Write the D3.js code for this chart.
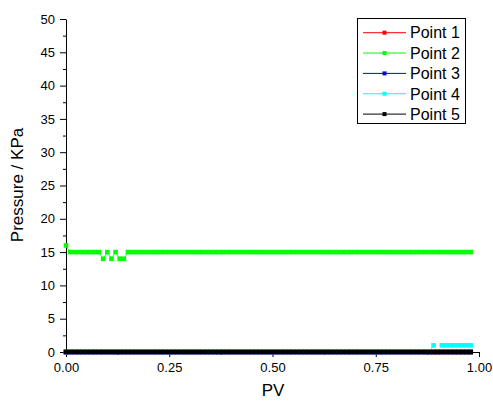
<!DOCTYPE html>
<html>
<head>
<meta charset="utf-8">
<script src="https://cdn.jsdelivr.net/npm/d3@7"></script>
<style>
  body { margin: 0; background: #fff; }
  svg { display: block; font-family: "Liberation Sans", Arial, sans-serif; }
</style>
</head>
<body>
<svg width="493" height="401"></svg>
<script>
// x values shared by every series
const pv = [
  0.00,0.01,0.02,0.03,0.04,0.05,0.06,0.07,0.08,0.09,
  0.10,0.11,0.12,0.13,0.14,0.15,0.16,0.17,0.18,0.19,
  0.20,0.21,0.22,0.23,0.24,0.25,0.26,0.27,0.28,0.29,
  0.30,0.31,0.32,0.33,0.34,0.35,0.36,0.37,0.38,0.39,
  0.40,0.41,0.42,0.43,0.44,0.45,0.46,0.47,0.48,0.49,
  0.50,0.51,0.52,0.53,0.54,0.55,0.56,0.57,0.58,0.59,
  0.60,0.61,0.62,0.63,0.64,0.65,0.66,0.67,0.68,0.69,
  0.70,0.71,0.72,0.73,0.74,0.75,0.76,0.77,0.78,0.79,
  0.80,0.81,0.82,0.83,0.84,0.85,0.86,0.87,0.88,0.89,
  0.90,0.91,0.92,0.93,0.94,0.95,0.96,0.97,0.98
];

const point1 = [
  0,0,0,0,0,0,0,0,0,0, 0,0,0,0,0,0,0,0,0,0,
  0,0,0,0,0,0,0,0,0,0, 0,0,0,0,0,0,0,0,0,0,
  0,0,0,0,0,0,0,0,0,0, 0,0,0,0,0,0,0,0,0,0,
  0,0,0,0,0,0,0,0,0,0, 0,0,0,0,0,0,0,0,0,0,
  0,0,0,0,0,0,0,0,0,0, 0,0,0,0,0,0,0,0,0
];

const point2 = [
  16,15,15,15,15,15,15,15,15,14, 15,14,15,14,14,15,15,15,15,15,
  15,15,15,15,15,15,15,15,15,15, 15,15,15,15,15,15,15,15,15,15,
  15,15,15,15,15,15,15,15,15,15, 15,15,15,15,15,15,15,15,15,15,
  15,15,15,15,15,15,15,15,15,15, 15,15,15,15,15,15,15,15,15,15,
  15,15,15,15,15,15,15,15,15,15, 15,15,15,15,15,15,15,15,15
];

const point3 = [
  0,0,0,0,0,0,0,0,0,0, 0,0,0,0,0,0,0,0,0,0,
  0,0,0,0,0,0,0,0,0,0, 0,0,0,0,0,0,0,0,0,0,
  0,0,0,0,0,0,0,0,0,0, 0,0,0,0,0,0,0,0,0,0,
  0,0,0,0,0,0,0,0,0,0, 0,0,0,0,0,0,0,0,0,0,
  0,0,0,0,0,0,0,0,0,0, 0,0,0,0,0,0,0,0,0
];

const point4 = [
  0,0,0,0,0,0,0,0,0,0, 0,0,0,0,0,0,0,0,0,0,
  0,0,0,0,0,0,0,0,0,0, 0,0,0,0,0,0,0,0,0,0,
  0,0,0,0,0,0,0,0,0,0, 0,0,0,0,0,0,0,0,0,0,
  0,0,0,0,0,0,0,0,0,0, 0,0,0,0,0,0,0,0,0,0,
  0,0,0,0,0,0,0,0,0,1, null,1,1,1,1,1,1,1,1
];

const point5 = [
  0,0,0,0,0,0,0,0,0,0, 0,0,0,0,0,0,0,0,0,0,
  0,0,0,0,0,0,0,0,0,0, 0,0,0,0,0,0,0,0,0,0,
  0,0,0,0,0,0,0,0,0,0, 0,0,0,0,0,0,0,0,0,0,
  0,0,0,0,0,0,0,0,0,0, 0,0,0,0,0,0,0,0,0,0,
  0,0,0,0,0,0,0,0,0,0, 0,0,0,0,0,0,0,0,0
];

const seriesNames = ["Point 1", "Point 2", "Point 3", "Point 4", "Point 5"];
const seriesValues = [point1, point2, point3, point4, point5];
const seriesColors = ["#ff0000", "#00ff00", "#0000ff", "#00ffff", "#000000"];

const xTicks = [0, 0.25, 0.5, 0.75, 1.0];
const xMinorTicks = [0.125, 0.375, 0.625, 0.875];
const yTicks = [0, 5, 10, 15, 20, 25, 30, 35, 40, 45, 50];
const yMinorTicks = [2.5, 7.5, 12.5, 17.5, 22.5, 27.5, 32.5, 37.5, 42.5, 47.5];

let svg = d3.select("svg");

let x = d3.scaleLinear().domain([0, 1]).range([66, 479]);
let y = d3.scaleLinear().domain([0, 50]).range([352, 19]);

// axes
svg.append("g")
  .attr("transform", "translate(0,352)")
  .call(d3.axisBottom(x).tickValues(xTicks).tickFormat(d3.format(".2f"))
    .tickSizeInner(5).tickSizeOuter(0).tickPadding(6));

svg.append("g")
  .attr("transform", "translate(0,352)")
  .call(d3.axisBottom(x).tickValues(xMinorTicks).tickFormat("")
    .tickSizeInner(3).tickSizeOuter(0))
  .select(".domain").remove();

svg.append("g")
  .attr("transform", "translate(66,0)")
  .call(d3.axisLeft(y).tickValues(yTicks).tickFormat(d3.format("d"))
    .tickSizeInner(6).tickSizeOuter(0).tickPadding(5));

svg.append("g")
  .attr("transform", "translate(66,0)")
  .call(d3.axisLeft(y).tickValues(yMinorTicks).tickFormat("")
    .tickSizeInner(3).tickSizeOuter(0))
  .select(".domain").remove();

svg.selectAll(".tick text").style("font-size", "13px").attr("fill", "#000")
  .style("font-family", "'Liberation Sans', Arial, sans-serif");
svg.selectAll(".domain, .tick line").attr("stroke", "#000");

// axis titles
svg.append("text")
  .attr("x", 273).attr("y", 396)
  .attr("text-anchor", "middle")
  .style("font-size", "17px")
  .text("PV");

svg.append("text")
  .attr("transform", "translate(23,185) rotate(-90)")
  .attr("text-anchor", "middle")
  .style("font-size", "17px")
  .text("Pressure / KPa");

// series
let line = d3.line()
  .defined(d => d[1] !== null)
  .x(d => x(d[0]))
  .y(d => y(d[1]));

const mk = 4.6;

seriesValues.forEach((vals, i) => {
  let pts = pv.map((p, j) => [p, vals[j]]);
  let g = svg.append("g").attr("class", "series");
  g.append("path")
    .datum(pts)
    .attr("fill", "none")
    .attr("stroke", seriesColors[i])
    .attr("stroke-width", 0.8)
    .attr("d", line);
  g.selectAll("rect")
    .data(pts.filter(d => d[1] !== null))
    .enter()
    .append("rect")
    .attr("x", d => x(d[0]) - mk / 2)
    .attr("y", d => y(d[1]) - mk / 2)
    .attr("width", mk)
    .attr("height", mk)
    .attr("fill", seriesColors[i]);
});

// legend
let legend = svg.append("g").attr("class", "legend");
legend.append("rect")
  .attr("x", 357.5).attr("y", 18.5)
  .attr("width", 108).attr("height", 105)
  .attr("fill", "#fff")
  .attr("stroke", "#000");

seriesNames.forEach((name, i) => {
  let ly = 32.7 + i * 20.35;
  legend.append("line")
    .attr("x1", 363).attr("x2", 406)
    .attr("y1", ly).attr("y2", ly)
    .attr("stroke", seriesColors[i]);
  legend.append("rect")
    .attr("x", 384.5 - 2).attr("y", ly - 2)
    .attr("width", 4).attr("height", 4)
    .attr("fill", seriesColors[i]);
  legend.append("text")
    .attr("x", 410).attr("y", ly)
    .attr("dy", "0.36em")
    .style("font-size", "16px")
    .text(name);
});
</script>
</body>
</html>
